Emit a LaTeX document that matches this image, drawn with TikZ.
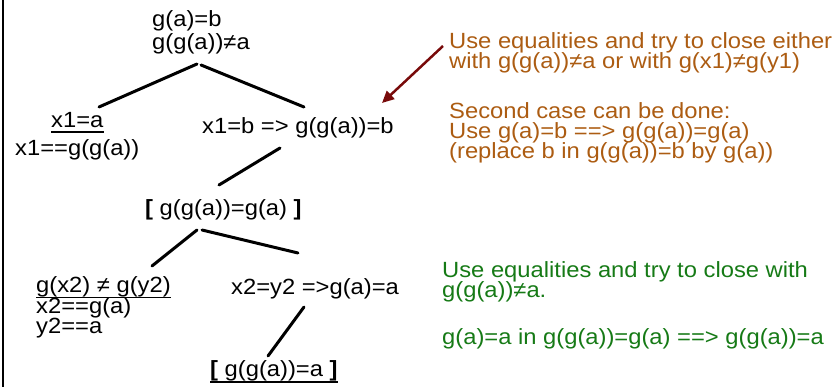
\documentclass[tikz,border=0pt]{standalone}
\usepackage{fontspec}
\setmainfont{Liberation Sans}[FakeStretch=1.08]
\usetikzlibrary{arrows.meta}
\definecolor{note}{RGB}{172,92,18}
\definecolor{ok}{RGB}{22,122,22}
\definecolor{arrowred}{RGB}{120,10,10}
\newcommand{\mlines}[2][20pt]{\vtop{\lineskiplimit=-100pt\baselineskip=#1\relax #2}}
\tikzset{
  txt/.style={anchor=base west, inner sep=0pt, font=\fontsize{22}{20}\selectfont},
  orange/.style={txt, text=note},
  green/.style={txt, text=ok},
  edge/.style={line width=3pt, line cap=round},
  uline/.style={line width=1.3pt},
}
\begin{document}
\begin{tikzpicture}[x=1pt,y=-1pt]
\useasboundingbox (0,0) rectangle (837,387);
\draw[line width=2.5pt] (3,0) -- (3,387);
% tree nodes
\node[txt] (top) at (152,27) {\mlines[23pt]{\hbox{g(a)=b}\hbox{g(g(a))≠a}}};
\node[txt] (l1a) at (51,128) {x1=a};
\node[txt] (l1b) at (15,156) {x1==g(g(a))};
\node[txt] (r1) at (202,134) {x1=b => g(g(a))=b};
\node[txt] (mid) at (145,215) {{\bfseries [} g(g(a))=g(a) {\bfseries ]}};
\node[txt] (l2a) at (36,292) {g(x2) ≠ g(y2)};
\node[txt] (l2b) at (36,313) {\mlines[20pt]{\hbox{x2==g(a)}\hbox{y2==a}}};
\node[txt] (r2) at (231,294) {x2=y2 =>g(a)=a};
\node[txt] (bot) at (210,376) {{\bfseries [} g(g(a))=a {\bfseries ]}};
% underlines
\draw[uline] ([yshift=-4pt]l1a.base west) -- ([yshift=-4pt]l1a.base east);
\draw[uline] ([yshift=-5.5pt]l2a.base west) -- ([yshift=-5.5pt]l2a.base east);
\draw[uline] ([yshift=-6pt]bot.base west) -- ([yshift=-6pt]bot.base east);
% connector end points
\coordinate (tA) at (197,64);  \coordinate (l1top) at (99,107);
\coordinate (tB) at (201,65);  \coordinate (r1top) at (304,107);
\coordinate (r1bot) at (280,148); \coordinate (midtop) at (219,185);
\coordinate (mA) at (197,230); \coordinate (l2top) at (152,266);
\coordinate (mB) at (202,230); \coordinate (r2top) at (298,253);
\coordinate (r2bot) at (304,307); \coordinate (bottop) at (268,356);
\draw[edge] (tA) -- (l1top);
\draw[edge] (tB) -- (r1top);
\draw[edge] (r1bot) -- (midtop);
\draw[edge] (mA) -- (l2top);
\draw[edge] (mB) -- (r2top);
\draw[edge] (r2bot) -- (bottop);
% orange notes
\node[orange] (o1) at (449,48.5) {\mlines{\hbox{Use equalities and try to close either}\hbox{with g(g(a))≠a or with g(x1)≠g(y1)}}};
\node[orange] (o3) at (449,119) {\mlines{\hbox{Second case can be done:}\hbox{Use g(a)=b ==> g(g(a))=g(a)}\hbox{(replace b in g(g(a))=b by g(a))}}};
\coordinate (arrtip) at (382,103);
\draw[line width=2.5pt, arrowred, -{Triangle[length=12pt,width=11pt]}] ([xshift=-6pt,yshift=2.5pt]o1.base west) -- (arrtip);
% green notes
\node[green] (g1) at (442,277) {\mlines[20pt]{\hbox{Use equalities and try to close with}\hbox{g(g(a))≠a.}}};
\node[green] (g3) at (442,344) {g(a)=a in g(g(a))=g(a) ==> g(g(a))=a};
\end{tikzpicture}
\end{document}
